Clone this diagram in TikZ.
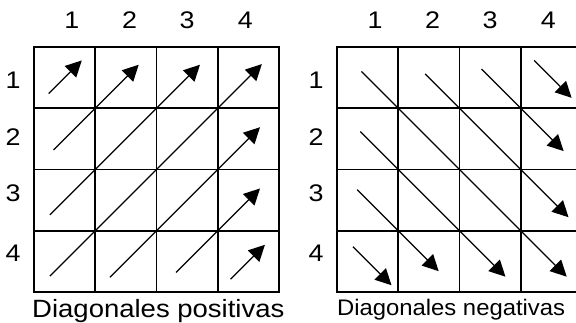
\documentclass[tikz,border=0pt]{standalone}
\usepackage{fontspec}
\setmainfont{Liberation Sans}
\usetikzlibrary{arrows.meta}
\tikzset{flecha/.style={line width=1.3pt,-{Triangle[length=16pt,width=16pt]}},
	rejilla/.style={line width=1.7pt,line cap=rect},
	num/.style={font=\fontsize{24}{28}\selectfont,xscale=1.12}}

\begin{document}
\begin{tikzpicture}[x=61.25pt,y=61.25pt]
			\clip (-0.555,-0.506) rectangle (8.849,4.767);
			% rejillas
			\foreach \d in {0,4.947}\foreach \i in {0,...,4}\draw[rejilla,shift={(\d,0)}] (\i,0)--(\i,4) (0,\i)--(4,\i);
			% numeros de columna y de fila
			\foreach \d/\s in {0/i,4.947/d}{
				\foreach \x[count=\i] in {0.62,1.56,2.50,3.45}\path (\d+\x,4.44) node[num](c\s\i){\i};
				\foreach \y[count=\i] in {3.46,2.53,1.62,0.64}\path (\d-0.34,\y) node[num](f\s\i){\i};
			}
			% diagonales positivas
			\foreach \k/\a/\b in {1/0.24/0.78,2/0.32/1.71,3/0.26/2.71,4/0.26/3.72,5/1.24/3.69,6/2.32/3.69,7/3.21/3.77}\draw[flecha] (\a,{4-\k+\a})--(\b,{4-\k+\b});
			% diagonales negativas
			\foreach \m/\a/\b in {0/0.40/3.75,1/1.44/3.78,2/2.36/3.70,3/3.22/3.83,-1/0.38/2.75,-2/0.33/1.66,-3/0.26/0.89}\draw[flecha,shift={(4.947,0)}] (\a,{4+\m-\a})--(\b,{4+\m-\b});
			\node[font=\fontsize{25}{30}\selectfont,xscale=1.1,anchor=base] (capi) at (2.03,-0.42) {Diagonales positivas};
			\node[font=\fontsize{22.5}{27}\selectfont,xscale=1.06,anchor=base] (capd) at (6.81,-0.39) {Diagonales negativas};
		\end{tikzpicture}
\end{document}
